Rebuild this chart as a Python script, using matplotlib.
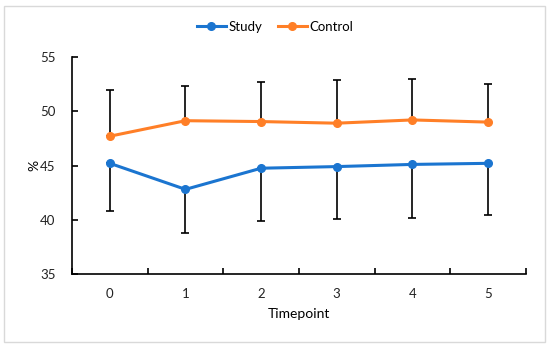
import matplotlib.pyplot as plt
from matplotlib.patches import Rectangle

plt.rcParams['font.family'] = ['Lato', 'DejaVu Sans']

# Data
timepoints = [0, 1, 2, 3, 4, 5]
study = [45.2, 42.8, 44.75, 44.9, 45.1, 45.2]
study_low = [40.85, 38.75, 39.9, 40.05, 40.15, 40.4]
control = [47.7, 49.13, 49.05, 48.9, 49.2, 49.0]
control_high = [52.0, 52.3, 52.7, 52.9, 52.95, 52.5]

blue = '#1b75d0'
orange = '#ff7f27'

study_err = [[s - l for s, l in zip(study, study_low)], [0] * len(study)]
control_err = [[0] * len(control), [h - c for c, h in zip(control, control_high)]]

fig = plt.figure(figsize=(5.5, 3.47), dpi=100)
ax = fig.add_axes([0.131, 0.2104, 0.825, 0.6253])

# error bars (black, one-sided)
ax.errorbar(timepoints, study, yerr=study_err, fmt='none', ecolor='black',
            elinewidth=1.2, capsize=3, capthick=1.2, zorder=2)
ax.errorbar(timepoints, control, yerr=control_err, fmt='none', ecolor='black',
            elinewidth=1.2, capsize=3, capthick=1.2, zorder=2)

ax.plot(timepoints, study, color=blue, lw=2.2, marker='o', ms=5.5, label='Study', zorder=3)
ax.plot(timepoints, control, color=orange, lw=2.2, marker='o', ms=5.5, label='Control', zorder=3)

ax.set_xlim(-0.5, 5.5)
ax.set_ylim(35, 55)
ax.set_yticks([35, 40, 45, 50, 55])
ax.set_xticks(timepoints)
ax.set_xticks([x + 0.5 for x in range(-1, 6)], minor=True)

ax.spines['top'].set_visible(False)
ax.spines['right'].set_visible(False)
for s in ['left', 'bottom']:
    ax.spines[s].set_color('black')
    ax.spines[s].set_linewidth(1.2)

ax.tick_params(axis='x', which='major', length=0, pad=10, labelsize=9.5, colors='#222222')
ax.tick_params(axis='x', which='minor', direction='in', length=4, width=1.2)
ax.tick_params(axis='y', direction='in', length=4, width=1.2, pad=12, labelsize=9.5, colors='#222222')
ax.tick_params(axis='y', colors='black', labelcolor='#222222')

ax.set_xlabel('Timepoint', fontsize=10, labelpad=6)
ax.set_ylabel('%', fontsize=10, labelpad=0)

fig.legend(loc='center', bbox_to_anchor=(0.5, 0.922), ncol=2, frameon=False,
           fontsize=9.5, handlelength=2.2, handletextpad=0.2, columnspacing=1.2)

# light grey frame around the whole chart
fig.patches.append(Rectangle((0.008, 0.014), 0.983, 0.97, transform=fig.transFigure,
                             fill=False, edgecolor='#d9d9d9', linewidth=1))

fig.savefig('out.png', dpi=100)
